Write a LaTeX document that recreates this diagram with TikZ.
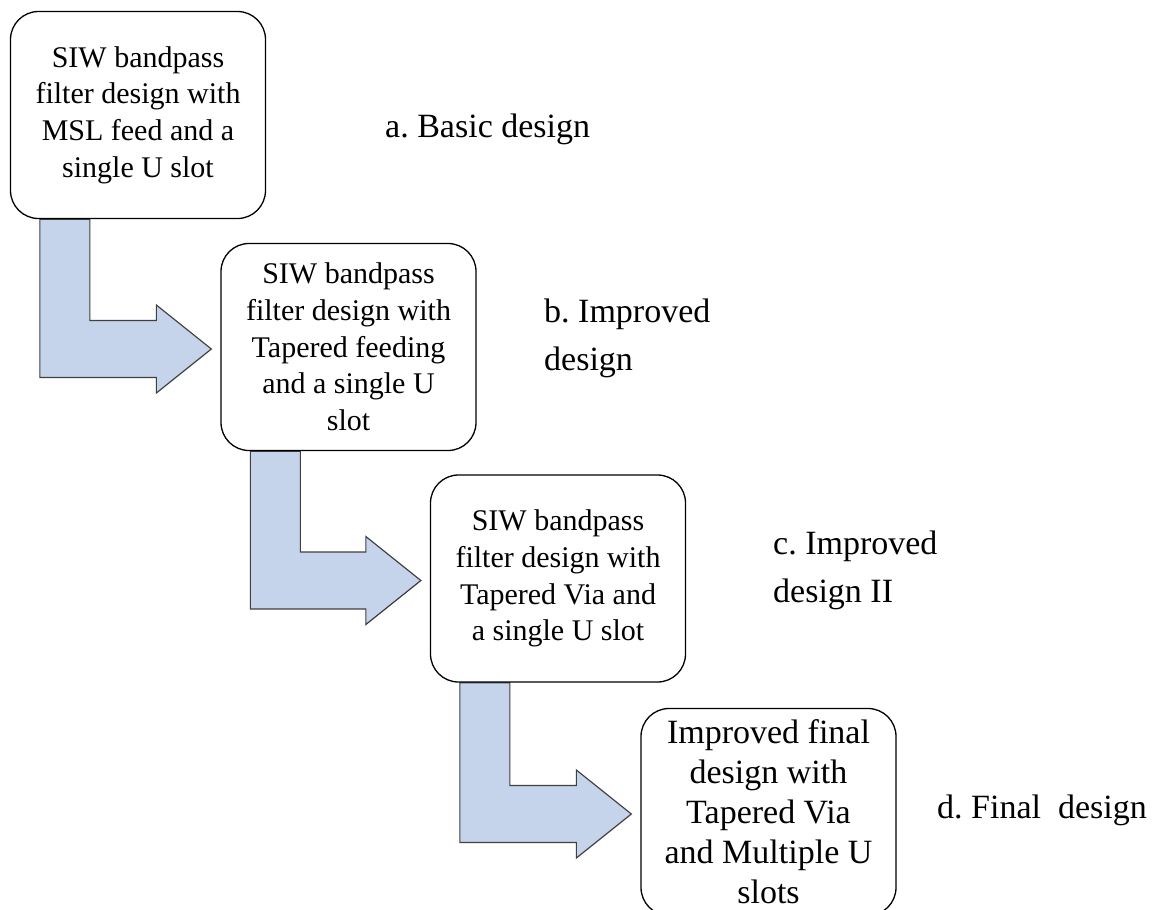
\documentclass[tikz,border=0pt]{standalone}
\usepackage{fontspec}
\setmainfont{Liberation Serif}
\usepackage{xcolor}
\usepackage{tikz}
\usetikzlibrary{calc,backgrounds}
\definecolor{arrowblue}{RGB}{197,212,234}
\definecolor{arrowedge}{RGB}{64,64,64}
\frenchspacing

\begin{document}
\begin{tikzpicture}[x=1pt,y=-1pt,
  designbox/.style={draw=black,line width=1.3pt,fill=white,rounded corners=28pt,
    minimum width=255pt,minimum height=207pt,inner sep=0pt,align=center,
    font=\fontsize{30}{36.7}\selectfont},
  steplabel/.style={inner sep=0pt,align=left,font=\fontsize{34}{48}\selectfont},
  bentarrow/.style={fill=arrowblue,draw=arrowedge,line width=1.2pt,line join=miter}]
\useasboundingbox (0,0) rectangle (1159,910);
% 四个设计框
\node[designbox] (basic) at (138,115) {SIW bandpass\\filter design with\\MSL feed and a\\single U slot};
\node[designbox] (tapfeed) at (348.5,347) {SIW bandpass\\filter design with\\Tapered feeding\\and a single U\\slot};
\node[designbox] (tapvia) at (558,578.5) {SIW bandpass\\filter design with\\Tapered Via and\\a single U slot};
\node[designbox,font=\fontsize{34}{40}\selectfont] (final) at (768.5,812) {Improved final\\design with\\Tapered Via\\and Multiple U\\slots};
% 右侧说明
\node[steplabel,anchor=base west] (labA) at (385,137) {a. Basic design};
\node[steplabel,anchor=west] (labB) at (544,338) {b. Improved\\design};
\node[steplabel,anchor=west] (labC) at (773,570.6) {c. Improved\\design II};
\node[steplabel,anchor=base west] (labD) at (937,818) {d. Final\ \ design};
% 折线箭头
\begin{scope}[on background layer]
\foreach \s/\t in {basic/tapfeed,tapfeed/tapvia,tapvia/final}
  \draw[bentarrow] let \p1=(\s.south west), \p2=(\t.west) in
    (\x1+30pt,\y1) -- (\x1+80pt,\y1) -- (\x1+80pt,\y2+26.5pt) -- (\x2-64pt,\y2+26.5pt)
    -- (\x2-64pt,\y2+42pt) -- (\x2-9pt,\y2-2pt) -- (\x2-64pt,\y2-46pt)
    -- (\x2-64pt,\y2-30.5pt) -- (\x1+30pt,\y2-30.5pt) -- cycle;
\end{scope}
\end{tikzpicture}
\end{document}
